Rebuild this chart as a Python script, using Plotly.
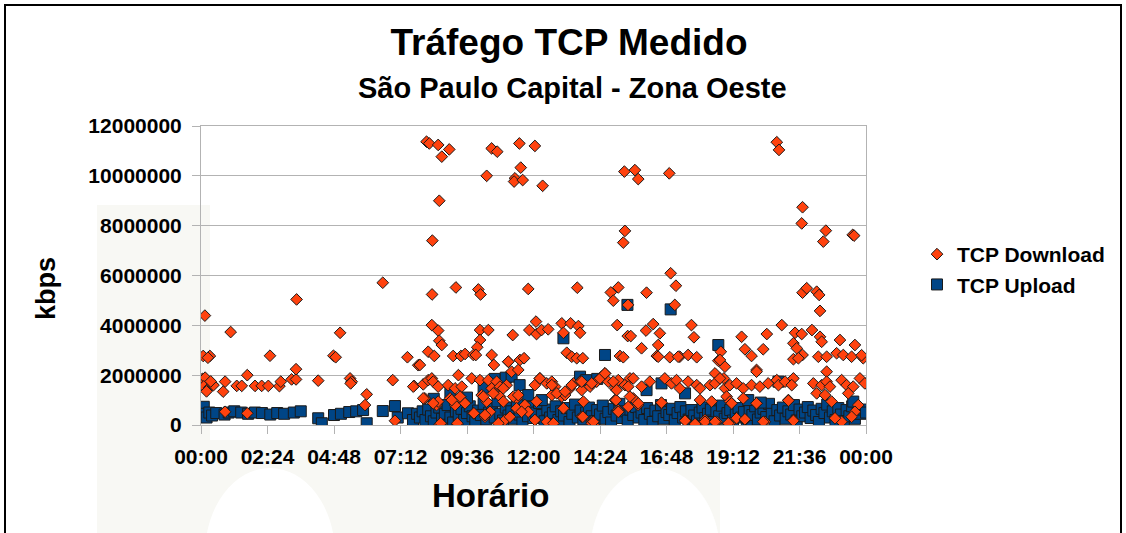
import plotly.graph_objects as go

# horário em horas (0-24), tráfego em Mbps*1e6 -> kbps
tick_vals = [0, 2.4, 4.8, 7.2, 9.6, 12.0, 14.4, 16.8, 19.2, 21.6, 24.0]
tick_text = ["00:00", "02:24", "04:48", "07:12", "09:36", "12:00",
             "14:24", "16:48", "19:12", "21:36", "00:00"]

# TCP Download (horas, milhoes de kbps)
down_h = [
    0.14, 0.08, 0.32, 0.25, 0.05, 0.15, 0.10, 0.30, 0.40, 0.45, 0.20, 0.35, 0.87, 0.80,
    1.07, 1.29, 1.47, 1.67, 1.95, 2.19, 2.43, 2.49, 2.83, 2.88, 3.27, 3.43, 3.43, 3.45,
    4.23, 4.78, 4.86, 5.02, 5.38, 5.44, 5.40, 5.98, 5.92, 6.56, 6.92, 7.45, 7.69, 7.84,
    0.87, 1.67, 7.00,
    8.14, 8.24, 8.56, 8.96, 8.69, 10.49, 10.69, 11.49, 12.05, 10.31, 11.54, 11.33, 11.30,
    11.61, 12.33, 8.60, 8.35, 15.28, 15.66, 15.78, 16.90, 15.30, 15.24, 20.78, 20.86,
    21.71, 21.68, 22.55, 22.46, 23.52, 23.57,
    8.34, 9.20, 10.01, 10.09, 11.81, 13.58, 15.06, 14.79, 14.88, 16.95, 17.14, 17.10,
    15.41, 16.08, 21.71, 21.86, 22.22, 22.31, 22.34,
    8.33, 8.56, 8.60, 8.69, 10.07, 10.37, 10.07, 9.97, 11.25, 11.85, 12.09, 12.11, 12.29,
    12.53, 13.02, 13.34, 13.62, 13.68, 13.08, 15.02, 15.40, 16.32, 16.56, 16.50, 16.06,
    15.90, 15.51, 17.70, 17.79, 20.96, 19.51, 19.63, 20.29, 20.42, 21.44, 21.68, 21.38,
    21.50, 22.05, 22.34, 22.40, 23.60, 23.06, 18.76,
    8.20, 8.42, 7.90, 9.10, 9.38, 9.53, 9.83, 9.92, 10.49, 10.57, 11.09, 11.51, 11.66,
    13.20, 13.38, 13.56, 13.78, 15.12, 15.24, 16.45, 16.92, 17.28, 17.58, 17.89, 18.67,
    18.91, 19.87, 20.05, 21.71, 21.38, 22.28, 22.58, 22.94, 23.18, 23.48, 23.90, 22.58,
    18.55, 18.87, 16.50, 17.22, 18.73, 21.56, 23.84,
    7.66, 8.02, 8.20, 8.33, 8.38, 8.56, 8.92, 9.29, 9.17, 9.41, 9.77, 10.07, 10.37,
    10.67, 10.49, 10.79, 11.03, 11.21, 11.09, 8.08, 8.50, 8.56, 8.99, 9.17, 9.35, 9.47,
    9.83, 10.25, 10.43, 10.13, 10.31, 10.61, 10.79, 10.91, 11.15, 10.79, 10.97, 8.62,
    9.25, 11.39, 11.39,
    11.45, 12.05, 12.23, 12.48, 12.66, 12.78, 12.66, 13.02, 13.14, 13.32, 13.44, 13.68,
    13.74, 14.04, 14.28, 14.46, 14.58, 14.70, 14.94, 15.06, 15.30, 15.48, 15.42, 14.94,
    15.06, 15.42, 11.69, 11.81, 12.05, 12.11, 13.08, 13.80, 13.74, 14.10, 14.16, 12.72,
    15.60, 15.90, 16.20, 16.74, 16.98, 17.16, 17.28, 17.58, 17.89, 18.01, 18.37, 18.55,
    18.73, 18.91, 19.09, 19.33, 19.57, 15.60, 15.78, 16.62, 18.01, 18.43, 18.97, 19.09,
    19.57, 17.47, 17.89, 18.19, 18.61, 19.09, 19.33, 19.63,
    20.05, 19.87, 20.17, 20.47, 20.78, 20.84, 21.08, 21.38, 21.32, 22.10, 22.40, 22.58,
    22.70, 23.12, 23.30, 23.54, 23.78, 23.96, 22.22, 22.52, 23.36, 21.20, 20.05, 22.76,
    23.72, 23.60, 23.48, 21.38, 20.35, 23.12, 22.88,
    15.06, 15.48, 15.78, 16.62, 17.47, 17.83, 18.19, 18.55, 19.03, 19.63, 20.29, 21.38,
    19.15, 20.05, 21.20,
    8.65, 9.25, 9.85, 10.25, 10.73, 11.15, 11.57, 12.05, 12.48, 12.72, 13.08, 13.78,
    14.10, 14.16, 15.06, 14.98,
    8.02, 8.38, 9.05, 9.35, 9.53, 10.19, 10.55, 10.91, 11.27, 11.45, 12.23, 12.66,
    12.84, 13.14, 13.38, 13.74, 14.10, 14.40, 14.58, 14.88, 15.00,
]
down_m = [
    4.39, 2.77, 2.77, 2.70, 1.85, 1.90, 1.55, 1.50, 1.65, 1.60, 1.35, 1.75, 1.74, 1.34,
    3.73, 1.57, 1.57, 2.00, 1.57, 1.57, 1.57, 2.78, 1.56, 1.74, 1.83, 1.83, 2.24, 5.04,
    1.78, 2.78, 2.72, 3.70, 1.87, 1.74, 1.67, 1.23, 0.80, 5.71, 1.80, 2.72, 1.57, 2.40,
    0.53, 0.47, 0.17,
    11.37, 11.30, 11.24, 11.06, 10.77, 11.10, 10.97, 11.30, 11.20, 10.00, 10.33, 9.90, 9.77,
    9.83, 9.60, 9.00, 7.40, 10.17, 10.23, 9.87, 10.10, 7.79, 7.32, 11.35, 11.04,
    8.74, 8.09, 7.80, 7.36, 7.63, 7.60,
    5.24, 5.52, 5.44, 5.24, 5.46, 5.51, 5.52, 5.32, 4.99, 6.09, 5.59, 4.82,
    4.82, 5.31, 5.31, 5.49, 5.35, 5.22, 4.58,
    4.01, 3.79, 3.38, 3.21, 3.81, 3.81, 3.41, 3.12, 3.61, 3.81, 4.15, 3.65, 3.81,
    3.84, 4.08, 4.08, 3.97, 3.70, 3.70, 4.01, 3.57, 4.05, 3.68, 3.21, 3.79,
    3.08, 3.57, 4.01, 3.52, 4.01, 3.54, 3.04, 3.04, 3.65, 3.70, 3.65, 3.28,
    3.08, 3.81, 3.54, 3.34, 3.21, 3.41, 2.94,
    2.94, 2.77, 2.41, 2.77, 2.77, 2.85, 2.81, 2.81, 2.81, 2.41, 2.54, 2.61, 2.68,
    2.90, 2.74, 2.68, 2.68, 2.77, 2.72, 2.77, 2.72, 2.74, 2.81, 2.72, 2.58,
    2.34, 2.77, 2.21, 2.81, 2.64, 2.74, 2.74, 2.88, 2.81, 2.74, 2.68, 2.14,
    2.07, 1.87, 2.74, 2.74, 2.61, 2.68, 2.80,
    1.54, 1.63, 1.80, 1.87, 1.74, 1.54, 1.60, 2.00, 1.47, 1.54, 1.87, 1.80, 1.80,
    1.74, 1.47, 1.54, 1.60, 2.14, 2.54, 1.07, 0.80, 0.94, 1.07, 0.80, 1.14, 0.94,
    0.47, 0.33, 0.53, 1.20, 0.94, 1.27, 1.14, 0.94, 0.33, 0.07, 0.20, 0.02,
    0.03, 1.07, 0.67,
    2.21, 1.60, 1.87, 1.67, 1.74, 1.54, 1.20, 1.14, 1.20, 1.47, 1.67, 1.74,
    1.40, 1.54, 1.74, 1.94, 2.07, 1.74, 1.47, 1.80, 1.60, 1.87, 1.54, 1.00,
    0.60, 0.73, 0.80, 0.53, 0.20, 0.94, 0.67, 0.94, 0.33, 0.13, 0.02, 0.07,
    1.87, 1.54, 1.74, 1.87, 1.67, 1.80, 1.47, 1.74, 1.60, 1.47, 1.60, 1.67,
    1.87, 1.47, 1.60, 1.67, 1.47, 1.07, 0.80, 0.87, 1.00, 0.94, 1.14, 0.94,
    1.07, 0.20, 0.02, 0.20, 0.13, 0.07, 0.27, 0.20,
    2.14, 1.60, 1.54, 1.67, 1.80, 1.60, 1.74, 1.87, 1.60, 1.67, 1.60, 1.74,
    1.54, 1.80, 1.60, 1.54, 1.87, 1.67, 1.27, 1.20, 1.27, 1.00, 0.87, 0.94,
    0.80, 0.53, 0.33, 0.20, 0.13, 0.13, 0.27,
    0.53, 1.14, 0.87, 0.90, 0.17, 0.04, 0.13, 0.13, 0.07, 0.23, 0.13, 0.17,
    0.87, 0.87, 0.98,
    0.07, 0.07, 0.47, 0.40, 0.07, 0.33, 0.53, 0.20, 0.13, 0.07, 0.67, 0.33,
    0.07, 0.13, 0.53, 1.00,
    1.07, 0.87, 1.00, 1.14, 0.87, 1.14, 1.27, 1.47, 1.14, 1.20, 1.87, 1.60,
    1.27, 1.34, 1.60, 1.74, 1.67, 1.87, 2.07, 1.74, 1.40,
]

# TCP Upload (horas, milhoes de kbps)
up_h = [
    0.05, 0.10, 0.15, 0.20, 0.30, 0.40, 0.55, 0.85, 1.00, 1.20, 1.45, 1.70, 1.95, 2.20,
    2.50, 2.75, 3.00, 3.35, 3.60,
    4.23, 4.36, 4.80, 5.05, 5.35, 5.60, 5.85, 5.98, 6.56, 7.00, 7.10, 7.47, 7.65,
    7.8, 7.9, 8.0, 8.1, 8.2, 8.3, 8.4, 8.5, 8.6, 8.7, 8.8, 8.9, 9.0, 9.1, 9.2, 9.3,
    9.4, 9.5, 9.6, 9.7, 9.8, 9.9, 10.0, 10.1, 10.2, 10.3, 10.4, 10.5, 10.6, 10.7,
    10.8, 10.9, 11.0, 11.1, 11.2, 11.3, 11.4, 11.5, 11.6, 11.7, 11.8, 11.9, 12.0,
    12.1, 12.2, 12.3, 12.4, 12.5, 12.6, 12.7, 12.8, 12.9, 13.0, 13.1, 13.2, 13.3,
    13.4, 13.5, 13.6, 13.7, 13.8, 13.9, 14.0, 14.1, 14.2, 14.3, 14.4, 14.5, 14.6,
    14.7, 14.8, 14.9, 15.0, 15.1, 15.2, 15.3, 15.4, 15.5, 15.6, 15.7, 15.8, 15.9,
    16.0, 16.1, 16.2, 16.3, 16.4, 16.5, 16.6, 16.7, 16.8, 16.9, 17.0, 17.1, 17.2,
    17.3, 17.4, 17.5, 17.6, 17.7, 17.8, 17.9, 18.0, 18.1, 18.2, 18.3, 18.4, 18.5,
    18.6, 18.7, 18.8, 18.9, 19.0, 19.1, 19.2, 19.3, 19.4, 19.5, 19.6, 19.7, 19.8,
    19.9, 20.0, 20.1, 20.2, 20.3, 20.4, 20.5, 20.6, 20.7, 20.8, 20.9, 21.0, 21.1,
    21.2, 21.3, 21.4, 21.5, 21.6, 21.7, 21.8, 21.9, 22.0, 22.1, 22.2, 22.3, 22.4,
    22.5, 22.6, 22.7, 22.8, 22.9, 23.0, 23.1, 23.2, 23.3, 23.4, 23.5, 23.6, 23.7,
    23.8, 23.9, 24.0,
    8.4, 9.0, 9.6, 10.2, 10.6, 11.0, 11.21, 11.5, 11.81, 12.3, 13.08, 13.68, 13.9,
    14.58, 14.3, 15.39, 16.08, 16.62, 16.95, 17.47, 18.67, 19.75, 20.84, 23.54, 20.2,
]
up_m = [
    0.55, 0.73, 0.45, 0.30, 0.50, 0.38, 0.48, 0.42, 0.50, 0.55, 0.50, 0.45, 0.50, 0.48,
    0.42, 0.48, 0.45, 0.50, 0.55,
    0.27, 0.07, 0.40, 0.45, 0.52, 0.55, 0.60, 0.07, 0.56, 0.76, 0.30, 0.47, 0.20,
    0.45, 0.30, 0.55, 0.20, 0.62, 0.35, 0.15, 0.50, 0.70, 0.25, 0.45, 0.80, 0.30, 0.10,
    0.55, 0.40, 0.65, 0.20, 0.48, 0.75, 0.35, 0.12, 0.58, 0.40, 0.85, 0.22, 0.50, 0.65,
    0.30, 0.95, 0.45, 0.18, 0.70, 0.38, 0.55, 0.25, 0.80, 0.42, 0.10, 0.60, 0.35, 0.72,
    0.28, 0.50, 0.88, 0.40, 0.15, 0.62, 0.30, 0.48, 0.75, 0.20, 0.55, 0.38, 0.68, 0.12,
    0.45, 0.82, 0.30, 0.58, 0.22, 0.50, 0.70, 0.35, 0.15, 0.60, 0.42, 0.78, 0.25, 0.52,
    0.10, 0.65, 0.38, 0.85, 0.28, 0.55, 0.18, 0.62, 0.40, 0.72, 0.30, 0.50, 0.20, 0.68,
    0.45, 0.12, 0.58, 0.35, 0.80, 0.25, 0.52, 0.40, 0.65, 0.18, 0.48, 0.72, 0.30, 0.55,
    0.22, 0.60, 0.38, 0.15, 0.50, 0.70, 0.28, 0.45, 0.62, 0.12, 0.55, 0.35, 0.78, 0.25,
    0.48, 0.60, 0.18, 0.42, 0.68, 0.30, 0.52, 0.10, 0.58, 0.40, 0.75, 0.22, 0.50, 0.65,
    0.32, 0.85, 0.45, 0.15, 0.60, 0.38, 0.70, 0.25, 0.55, 0.42, 0.80, 0.18, 0.62, 0.35,
    0.50, 0.72, 0.28, 0.58, 0.40, 0.12, 0.65, 0.48, 0.82, 0.30, 0.55, 0.20, 0.68, 0.42,
    0.15, 0.60, 0.35, 0.75, 0.25, 0.52, 0.45, 0.62, 0.50,
    1.05, 1.30, 1.10, 1.50, 1.85, 1.90, 1.94, 1.60, 1.20, 1.00, 3.48, 1.94, 1.80,
    2.81, 1.85, 4.82, 1.40, 1.67, 4.64, 1.27, 3.21, 1.00, 1.74, 0.94, 0.90,
]

ORANGE = "#ff420e"
BLUE = "#004586"
FONT = "Liberation Sans, Arial, sans-serif"

# area do grafico em pixels
L, R, T, B = 201, 866, 126, 425
W, H = 1126, 533


def px(xp):
    return (xp - L) / (R - L)


def py(yp):
    return (B - yp) / (B - T)


fig = go.Figure()
fig.add_trace(go.Scatter(
    x=up_h, y=[v * 1e6 for v in up_m], mode="markers", name="TCP Upload",
    marker=dict(symbol="square", size=11, color=BLUE, line=dict(color="#1a1a1a", width=1)),
))
fig.add_trace(go.Scatter(
    x=down_h, y=[v * 1e6 for v in down_m], mode="markers", name="TCP Download",
    marker=dict(symbol="diamond", size=9, color=ORANGE, line=dict(color="#1a1a1a", width=1)),
))

shapes = [
    # marca d'agua clara ao fundo
    dict(type="rect", xref="paper", yref="paper", x0=px(97), x1=px(210), y0=py(205), y1=py(440),
         fillcolor="#f8f8f4", line_width=0, layer="below"),
    dict(type="rect", xref="paper", yref="paper", x0=px(97), x1=px(720), y0=py(440), y1=py(540),
         fillcolor="#f8f8f4", line_width=0, layer="below"),
    dict(type="circle", xref="paper", yref="paper", x0=px(205), x1=px(335), y0=py(468), y1=py(640),
         fillcolor="white", line_width=0, layer="below"),
    dict(type="circle", xref="paper", yref="paper", x0=px(590), x1=px(720), y0=py(468), y1=py(640),
         fillcolor="white", line_width=0, layer="below"),
    # moldura preta
    dict(type="rect", xref="paper", yref="paper", x0=px(5), x1=px(1121), y0=py(560), y1=py(5),
         line=dict(color="black", width=2), fillcolor="rgba(0,0,0,0)"),
]

fig.update_layout(
    width=W, height=H,
    margin=dict(l=L, r=W - R, t=T, b=H - B, pad=0),
    paper_bgcolor="white", plot_bgcolor="rgba(0,0,0,0)",
    font=dict(family=FONT, color="black", size=20),
    title=dict(text="<b>Tráfego TCP Medido</b>", x=569 / W, xanchor="center",
               y=1 - 42 / H, yanchor="middle", font=dict(size=37)),
    showlegend=True,
    legend=dict(x=px(917), y=py(234), xanchor="left", yanchor="top",
                font=dict(size=21, weight="bold"), bgcolor="rgba(0,0,0,0)",
                traceorder="reversed"),
    shapes=shapes,
    annotations=[
        dict(text="<b>São Paulo Capital - Zona Oeste</b>", x=px(572), y=py(88), xref="paper", yref="paper",
             showarrow=False, font=dict(size=29), xanchor="center", yanchor="middle"),
        dict(text="<b>kbps</b>", x=px(46), y=py(289), xref="paper", yref="paper", textangle=-90,
             showarrow=False, font=dict(size=27), xanchor="center", yanchor="middle"),
        dict(text="<b>Horário</b>", x=px(490), y=py(495), xref="paper", yref="paper",
             showarrow=False, font=dict(size=33), xanchor="center", yanchor="middle"),
    ],
)
fig.update_xaxes(
    range=[0, 24], tickvals=tick_vals, ticktext=tick_text, showgrid=False, zeroline=False,
    showline=True, linecolor="#b3b3b3", linewidth=1, mirror=True,
    ticks="outside", ticklen=8, tickcolor="#b3b3b3",
    tickfont=dict(size=21, family=FONT, weight="bold"), ticklabelstandoff=5,
)
fig.update_yaxes(
    range=[0, 12e6], tickvals=[0, 2e6, 4e6, 6e6, 8e6, 10e6, 12e6],
    ticktext=["0", "2000000", "4000000", "6000000", "8000000", "10000000", "12000000"],
    showgrid=True, gridcolor="#b3b3b3", gridwidth=1, zeroline=False,
    showline=True, linecolor="#b3b3b3", linewidth=1, mirror=True,
    ticks="outside", ticklen=8, tickcolor="#b3b3b3",
    tickfont=dict(size=21, family=FONT, weight="bold"), ticklabelstandoff=6,
)

# sem margem do body para a figura ocupar a janela inteira
fig.write_html("out.html", config={"displayModeBar": False},
               post_script="document.body.style.margin='0';")
